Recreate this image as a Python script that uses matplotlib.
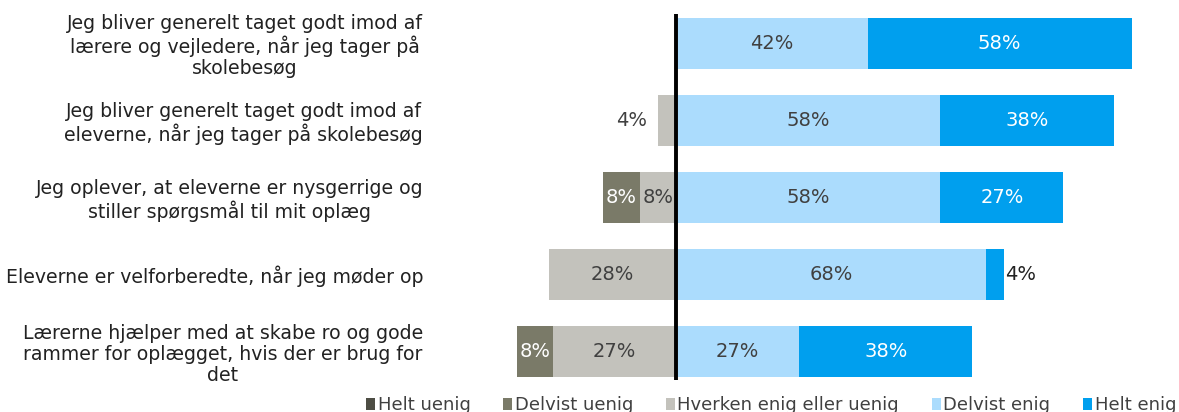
import matplotlib
matplotlib.use("Agg")
import matplotlib.pyplot as plt
from matplotlib.patches import Patch

plt.rcParams["font.family"] = ["DejaVu Sans"]

categories = [
    "Jeg bliver generelt taget godt imod af\nlærere og vejledere, når jeg tager på\nskolebesøg",
    "Jeg bliver generelt taget godt imod af\neleverne, når jeg tager på skolebesøg",
    "Jeg oplever, at eleverne er nysgerrige og\nstiller spørgsmål til mit oplæg",
    "Eleverne er velforberedte, når jeg møder op",
    "Lærerne hjælper med at skabe ro og gode\nrammer for oplægget, hvis der er brug for\ndet",
]
series_names = ["Helt uenig", "Delvist uenig", "Hverken enig eller uenig", "Delvist enig", "Helt enig"]
helt_uenig = [0, 0, 0, 0, 0]
delvist_uenig = [0, 0, 8, 0, 8]
hverken = [0, 4, 8, 28, 27]
delvist_enig = [42, 58, 58, 68, 27]
helt_enig = [58, 38, 27, 4, 38]

colors = ["#4d4d44", "#7a7a68", "#c3c2bc", "#abdcfd", "#009fee"]
text_colors = ["white", "white", "#404040", "#404040", "white"]

W, H = 1179, 412
fig = plt.figure(figsize=(W / 100, H / 100), dpi=100)
ax = fig.add_axes([437 / W, 18 / H, 738 / W, 393 / H])

n = len(categories)
ys = list(range(n))
h = 0.66
fs_lab = 14

def label(x, y, v, color, outside=None):
    if v <= 0:
        return
    if outside == "right":
        ax.text(x, y, f"{v}%", ha="left", va="center", fontsize=fs_lab, color="#222222")
    elif outside == "left":
        ax.text(x, y, f"{v}%", ha="right", va="center", fontsize=fs_lab, color="#404040")
    else:
        ax.text(x, y, f"{v}%", ha="center", va="center", fontsize=fs_lab, color=color)

for i in range(n):
    y = ys[i]
    left = 0
    for vals, ci in [(hverken, 2), (delvist_uenig, 1), (helt_uenig, 0)]:
        v = vals[i]
        if v > 0:
            ax.barh(y, -v, left=left, height=h, color=colors[ci], linewidth=0)
            if v < 5:
                label(left - v - 2.3, y, v, text_colors[ci], outside="left")
            else:
                label(left - v / 2, y, v, text_colors[ci])
        left -= v
    right = 0
    for vals, ci in [(delvist_enig, 3), (helt_enig, 4)]:
        v = vals[i]
        if v > 0:
            ax.barh(y, v, left=right, height=h, color=colors[ci], linewidth=0)
            if v < 5:
                label(right + v + 0.1, y, v, text_colors[ci], outside="right")
            else:
                label(right + v / 2, y, v, text_colors[ci])
        right += v

ax.plot([0, 0], [-0.38, n - 1 + 0.37], color="black", linewidth=2.8, solid_capstyle="butt")
ax.set_xlim(-52.5, 109.5)
ax.set_ylim(n - 1 + 0.55, -0.55)
ax.set_yticks(ys)
ax.set_yticklabels(categories, fontsize=13.6, color="#222222", multialignment="center",
                   linespacing=1.13)
ax.tick_params(axis="y", length=0, pad=10)
ax.set_xticks([])
for s in ax.spines.values():
    s.set_visible(False)

handles = [Patch(facecolor=c, edgecolor="none") for c in colors]
fig.legend(handles, series_names, loc="lower center", bbox_to_anchor=(771 / W, -0.045),
           ncol=5, frameon=False, fontsize=13, handlelength=0.5, handleheight=0.6,
           handletextpad=0.15, columnspacing=1.8, labelcolor="#404040")

fig.savefig("out.png", dpi=100)
